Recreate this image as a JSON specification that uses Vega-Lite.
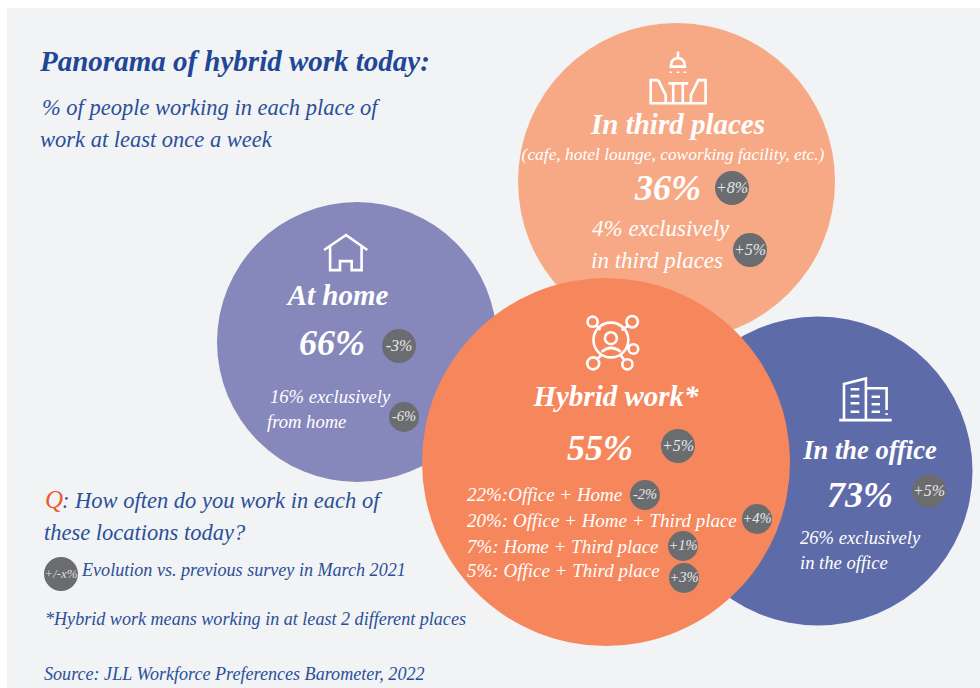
{
  "$schema": "https://vega.github.io/schema/vega-lite/v6.json",
  "width": 980,
  "height": 688,
  "padding": 0,
  "autosize": {"type": "none"},
  "background": "#ffffff",
  "config": {"view": {"stroke": null}},
  "datasets": {
    "panel": [{"x": 7, "y": 8, "x2": 980, "y2": 688}],
    "places": [
      {"place": "In third places", "share": 36, "x": 676.5, "y": 181.5, "d": 317},
      {"place": "At home", "share": 66, "x": 357, "y": 342, "d": 280},
      {"place": "In the office", "share": 73, "x": 818, "y": 471, "d": 309},
      {"place": "Hybrid work", "share": 55, "x": 606, "y": 462, "d": 368}
    ],
    "icons": [
      {"icon": "table", "x": 678, "y": 78},
      {"icon": "house", "x": 346, "y": 253},
      {"icon": "tower", "x": 865, "y": 400},
      {"icon": "network", "x": 613, "y": 343}
    ],
    "changes": [
      {"text": "+8%", "x": 732, "y": 188, "d": 34},
      {"text": "+5%", "x": 750, "y": 250, "d": 34},
      {"text": "-3%", "x": 399, "y": 346, "d": 34},
      {"text": "-6%", "x": 404, "y": 417, "d": 30},
      {"text": "+5%", "x": 678, "y": 446, "d": 34},
      {"text": "+5%", "x": 929, "y": 491, "d": 34},
      {"text": "-2%", "x": 645, "y": 495, "d": 30},
      {"text": "+4%", "x": 757, "y": 519, "d": 30},
      {"text": "+1%", "x": 683, "y": 546, "d": 30},
      {"text": "+3%", "x": 684, "y": 578, "d": 30},
      {"text": "+/-x%", "x": 61, "y": 574, "d": 34}
    ],
    "labels": [
      {"role": "title", "text": "Panorama of hybrid work today:", "x": 40, "y": 71},
      {"role": "lead", "text": "% of people working in each place of", "x": 42, "y": 115},
      {"role": "lead", "text": "work at least once a week", "x": 40, "y": 147},
      {"role": "accent", "text": "Q", "x": 45, "y": 508},
      {"role": "lead", "text": ": How often do you work in each of", "x": 62, "y": 508},
      {"role": "lead", "text": "these locations today?", "x": 44, "y": 540},
      {"role": "note", "text": "Evolution vs. previous survey in March 2021", "x": 82, "y": 576},
      {"role": "note", "text": "*Hybrid work means working in at least 2 different places", "x": 45, "y": 625},
      {"role": "note", "text": "Source: JLL Workforce Preferences Barometer, 2022", "x": 44, "y": 680},
      {"role": "heading", "text": "In third places", "x": 678, "y": 134},
      {"role": "examples", "text": "(cafe, hotel lounge, coworking facility, etc.)", "x": 673, "y": 160},
      {"role": "share", "text": "36%", "x": 668, "y": 200},
      {"role": "large", "text": "4% exclusively", "x": 592, "y": 236},
      {"role": "large", "text": "in third places", "x": 591, "y": 268},
      {"role": "heading", "text": "At home", "x": 338, "y": 305},
      {"role": "share", "text": "66%", "x": 332, "y": 355},
      {"role": "aside", "text": "16% exclusively", "x": 270, "y": 403},
      {"role": "aside", "text": "from home", "x": 267, "y": 428},
      {"role": "heading", "text": "Hybrid work*", "x": 616, "y": 406},
      {"role": "share", "text": "55%", "x": 600, "y": 460},
      {"role": "list", "text": "22%:Office + Home", "x": 467, "y": 501},
      {"role": "list", "text": "20%: Office + Home + Third place", "x": 467, "y": 527},
      {"role": "list", "text": "7%: Home + Third place", "x": 467, "y": 553},
      {"role": "list", "text": "5%: Office + Third place", "x": 467, "y": 577},
      {"role": "headingSmall", "text": "In the office", "x": 870, "y": 459},
      {"role": "share", "text": "73%", "x": 860, "y": 507},
      {"role": "aside", "text": "26% exclusively", "x": 800, "y": 544},
      {"role": "aside", "text": "in the office", "x": 800, "y": 569}
    ]
  },
  "encoding": {
    "x": {"field": "x", "type": "quantitative", "axis": null, "scale": {"domain": [0, 980], "nice": false, "zero": false}},
    "y": {"field": "y", "type": "quantitative", "axis": null, "scale": {"domain": [688, 0], "nice": false, "zero": false}}
  },
  "layer": [
    {
      "data": {"name": "panel"},
      "mark": {"type": "rect", "color": "#f1f3f5"},
      "encoding": {"x2": {"field": "x2"}, "y2": {"field": "y2"}}
    },
    {
      "data": {"name": "places"},
      "mark": {"type": "point", "shape": "circle", "filled": true, "opacity": 1, "strokeWidth": 0},
      "encoding": {
        "size": {"field": "d", "type": "quantitative", "legend": null, "scale": {"type": "pow", "exponent": 2, "domain": [0, 400], "range": [0, 160000]}},
        "color": {"field": "place", "type": "nominal", "legend": null, "scale": {"domain": ["In third places", "At home", "In the office", "Hybrid work"], "range": ["#f7a985", "#8688bb", "#5e6ba9", "#f6875d"]}}
      }
    },
    {
      "data": {"name": "icons"},
      "mark": {"type": "point", "filled": false, "opacity": 1, "stroke": "#ffffff", "strokeWidth": 2.6, "size": 3600},
      "encoding": {
        "shape": {
          "field": "icon",
          "type": "nominal",
          "legend": null,
          "scale": {
            "domain": ["table", "house", "tower", "network"],
            "range": [
              "M0,-0.88V-0.66M-0.24,-0.38Q-0.24,-0.66 0,-0.66Q0.23,-0.66 0.23,-0.38ZM-0.24,-0.22V-0.17M0,-0.22V-0.17M0.23,-0.22V-0.17M-0.66,0.07H-0.91V0.84H0.92V0.07H0.68L0.43,0.57V0.84M-0.66,0.07L-0.41,0.57V0.84M-0.32,0.18H0.34M-0.16,0.18V0.84M0.16,0.18V0.84",
              "M-0.73,-0.1L0,-0.6L0.71,-0.1M-0.53,-0.22V0.57H-0.2V0.27H0.19V0.57H0.52V-0.22",
              "M-0.86,0.67H0.89M-0.7,0.67V-0.53L0.03,-0.72V0.67M0.03,-0.39H0.72V0.33M0.72,0.44V0.5M-0.48,-0.36H-0.19M-0.48,-0.13H-0.19M-0.48,0.11H-0.19M-0.48,0.39H-0.19M0.22,-0.11H0.5M0.22,0.14H0.5M0.22,0.39H0.5",
              "M-0.65,-0.1A0.58,0.58 0 1,0 0.51,-0.1A0.58,0.58 0 1,0 -0.65,-0.1ZM-0.27,-0.16A0.2,0.2 0 1,0 0.13,-0.16A0.2,0.2 0 1,0 -0.27,-0.16ZM-0.38,0.29Q-0.07,0.03 0.26,0.29M-0.85,-0.71A0.17,0.17 0 1,0 -0.51,-0.71A0.17,0.17 0 1,0 -0.85,-0.71ZM0.45,-0.71A0.19,0.19 0 1,0 0.83,-0.71A0.19,0.19 0 1,0 0.45,-0.71ZM0.52,0.2A0.16,0.16 0 1,0 0.84,0.2A0.16,0.16 0 1,0 0.52,0.2ZM-0.86,0.68A0.2,0.2 0 1,0 -0.46,0.68A0.2,0.2 0 1,0 -0.86,0.68ZM0.31,0.71A0.17,0.17 0 1,0 0.65,0.71A0.17,0.17 0 1,0 0.31,0.71ZM-0.56,-0.59L-0.42,-0.44M0.5,-0.58L0.29,-0.43M0.52,0.16L0.43,0.1M-0.52,0.54L-0.38,0.38M0.38,0.57L0.23,0.38"
            ]
          }
        }
      }
    },
    {
      "data": {"name": "changes"},
      "mark": {"type": "point", "shape": "circle", "filled": true, "opacity": 1, "color": "#6b6c70", "strokeWidth": 0},
      "encoding": {"size": {"field": "d", "type": "quantitative", "legend": null}}
    },
    {
      "data": {"name": "changes"},
      "transform": [{"filter": "datum.d === 34 && datum.text !== '+/-x%'"}],
      "mark": {"type": "text", "font": "Liberation Serif", "fontStyle": "italic", "fontSize": 16, "color": "#e8e8e8", "align": "center", "baseline": "middle"},
      "encoding": {"text": {"field": "text"}}
    },
    {
      "data": {"name": "changes"},
      "transform": [{"filter": "datum.d === 30"}],
      "mark": {"type": "text", "font": "Liberation Serif", "fontStyle": "italic", "fontSize": 14.5, "color": "#e8e8e8", "align": "center", "baseline": "middle"},
      "encoding": {"text": {"field": "text"}}
    },
    {
      "data": {"name": "changes"},
      "transform": [{"filter": "datum.text === '+/-x%'"}],
      "mark": {"type": "text", "font": "Liberation Serif", "fontStyle": "italic", "fontSize": 13, "color": "#dddddd", "align": "center", "baseline": "middle"},
      "encoding": {"text": {"field": "text"}}
    },
    {
      "data": {"name": "labels"},
      "transform": [{"filter": "datum.role === 'title'"}],
      "mark": {"type": "text", "font": "Liberation Serif", "fontStyle": "italic", "fontWeight": "bold", "fontSize": 29, "color": "#1f4796", "align": "left", "baseline": "alphabetic"},
      "encoding": {"text": {"field": "text"}}
    },
    {
      "data": {"name": "labels"},
      "transform": [{"filter": "datum.role === 'lead'"}],
      "mark": {"type": "text", "font": "Liberation Serif", "fontStyle": "italic", "fontSize": 22.5, "color": "#2a4f99", "align": "left", "baseline": "alphabetic"},
      "encoding": {"text": {"field": "text"}}
    },
    {
      "data": {"name": "labels"},
      "transform": [{"filter": "datum.role === 'accent'"}],
      "mark": {"type": "text", "font": "Liberation Serif", "fontStyle": "italic", "fontSize": 25, "color": "#f05a28", "align": "left", "baseline": "alphabetic"},
      "encoding": {"text": {"field": "text"}}
    },
    {
      "data": {"name": "labels"},
      "transform": [{"filter": "datum.role === 'note'"}],
      "mark": {"type": "text", "font": "Liberation Serif", "fontStyle": "italic", "fontSize": 18.1, "color": "#2a4f99", "align": "left", "baseline": "alphabetic"},
      "encoding": {"text": {"field": "text"}}
    },
    {
      "data": {"name": "labels"},
      "transform": [{"filter": "datum.role === 'heading'"}],
      "mark": {"type": "text", "font": "Liberation Serif", "fontStyle": "italic", "fontWeight": "bold", "fontSize": 29, "color": "#ffffff", "align": "center", "baseline": "alphabetic"},
      "encoding": {"text": {"field": "text"}}
    },
    {
      "data": {"name": "labels"},
      "transform": [{"filter": "datum.role === 'headingSmall'"}],
      "mark": {"type": "text", "font": "Liberation Serif", "fontStyle": "italic", "fontWeight": "bold", "fontSize": 26.5, "color": "#ffffff", "align": "center", "baseline": "alphabetic"},
      "encoding": {"text": {"field": "text"}}
    },
    {
      "data": {"name": "labels"},
      "transform": [{"filter": "datum.role === 'examples'"}],
      "mark": {"type": "text", "font": "Liberation Serif", "fontStyle": "italic", "fontSize": 17.4, "color": "#ffffff", "align": "center", "baseline": "alphabetic"},
      "encoding": {"text": {"field": "text"}}
    },
    {
      "data": {"name": "labels"},
      "transform": [{"filter": "datum.role === 'share'"}],
      "mark": {"type": "text", "font": "Liberation Serif", "fontStyle": "italic", "fontWeight": "bold", "fontSize": 36, "color": "#ffffff", "align": "center", "baseline": "alphabetic"},
      "encoding": {"text": {"field": "text"}}
    },
    {
      "data": {"name": "labels"},
      "transform": [{"filter": "datum.role === 'large'"}],
      "mark": {"type": "text", "font": "Liberation Serif", "fontStyle": "italic", "fontSize": 23, "color": "#ffffff", "align": "left", "baseline": "alphabetic"},
      "encoding": {"text": {"field": "text"}}
    },
    {
      "data": {"name": "labels"},
      "transform": [{"filter": "datum.role === 'list'"}],
      "mark": {"type": "text", "font": "Liberation Serif", "fontStyle": "italic", "fontSize": 19, "color": "#ffffff", "align": "left", "baseline": "alphabetic"},
      "encoding": {"text": {"field": "text"}}
    },
    {
      "data": {"name": "labels"},
      "transform": [{"filter": "datum.role === 'aside'"}],
      "mark": {"type": "text", "font": "Liberation Serif", "fontStyle": "italic", "fontSize": 18.6, "color": "#ffffff", "align": "left", "baseline": "alphabetic"},
      "encoding": {"text": {"field": "text"}}
    }
  ]
}
